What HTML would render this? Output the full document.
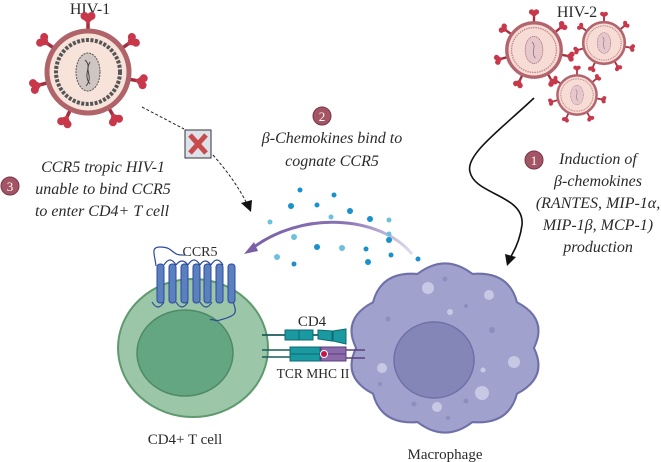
<!DOCTYPE html>
<html><head><meta charset="utf-8"><style>
html,body{margin:0;padding:0;background:#fff;width:661px;height:462px;overflow:hidden}
svg{display:block}
text{font-family:"Liberation Serif",serif;fill:#2a2a2a}
.it{font-style:italic;font-size:16px}
</style></head><body>
<svg width="661" height="462" viewBox="0 0 661 462" xmlns="http://www.w3.org/2000/svg">
<defs>
<g id="spike">
  <line x1="0" y1="-40" x2="0" y2="-53" stroke="#a03040" stroke-width="3.5"/>
  <circle cx="-3.5" cy="-56" r="4" fill="#c8384a"/><circle cx="3.5" cy="-56" r="4" fill="#c8384a"/>
  <path d="M-7,-55 L0,-48 L7,-55Z" fill="#c8384a"/>
</g>
<g id="v1">
  <use href="#spike" transform="rotate(0)"/><use href="#spike" transform="rotate(55)"/>
  <use href="#spike" transform="rotate(100)"/><use href="#spike" transform="rotate(150)"/>
  <use href="#spike" transform="rotate(205)"/><use href="#spike" transform="rotate(255)"/>
  <use href="#spike" transform="rotate(305)"/>
  <circle r="41" fill="#f7e3da" stroke="#b0646a" stroke-width="5"/>
  <circle r="32" fill="none" stroke="#555" stroke-width="4" stroke-dasharray="3 1.5"/>
  <ellipse rx="12" ry="19" fill="#cfc6c2" stroke="#555" stroke-dasharray="2 1"/>
  <path d="M-3,-12 C5,-5 -6,2 2,12 M2,-10 C-4,0 6,4 -2,14" stroke="#444" fill="none"/>
</g>
<g id="v2">
  <use href="#spike" transform="rotate(0)"/><use href="#spike" transform="rotate(50)"/>
  <use href="#spike" transform="rotate(100)"/><use href="#spike" transform="rotate(150)"/>
  <use href="#spike" transform="rotate(205)"/><use href="#spike" transform="rotate(255)"/>
  <use href="#spike" transform="rotate(305)"/>
  <circle r="40" fill="#f6dcd4" stroke="#b4646c" stroke-width="5"/>
  <circle r="33" fill="none" stroke="#c08088" stroke-width="2" stroke-dasharray="2 1.5"/>
  <ellipse rx="13" ry="20" fill="#e6c8cc" stroke="#a06070" stroke-dasharray="2 1"/>
  <path d="M-3,-12 C5,-5 -6,2 2,12" stroke="#806070" fill="none"/>
</g>
</defs>

<text x="90" y="14" font-size="16" text-anchor="middle">HIV-1</text>
<use href="#v1" transform="translate(88,72)"/>
<path d="M142,107 L184,129" stroke="#222" stroke-dasharray="3 2" fill="none"/>
<path d="M213,155 Q235,180 246,202" stroke="#222" stroke-dasharray="3 2" fill="none"/>
<path d="M241,203 L252,200 L251,212Z" fill="#111"/>
<rect x="185" y="130" width="26" height="28" fill="#dde2ea" stroke="#333"/>
<path d="M190,135 L206,153 M206,135 L190,153" stroke="#c84a4a" stroke-width="5"/>

<circle cx="10" cy="186" r="9" fill="#a35566" stroke="#7a3446"/>
<text x="10" y="191" font-size="13" text-anchor="middle" style="fill:#fff">3</text>
<text class="it" x="103" y="172" text-anchor="middle">CCR5 tropic HIV-1</text>
<text class="it" x="103" y="194" text-anchor="middle">unable to bind CCR5</text>
<text class="it" x="102" y="216" text-anchor="middle">to enter CD4+ T cell</text>

<circle cx="322" cy="116" r="9" fill="#a35566" stroke="#7a3446"/>
<text x="322" y="121" font-size="13" text-anchor="middle" style="fill:#fff">2</text>
<text class="it" x="332" y="143" text-anchor="middle">β-Chemokines bind to</text>
<text class="it" x="332" y="166" text-anchor="middle">cognate CCR5</text>

<text x="577" y="17" font-size="16" text-anchor="middle">HIV-2</text>
<use href="#v2" transform="translate(534,50) scale(0.68)"/>
<use href="#v2" transform="translate(604,43) scale(0.52)"/>
<use href="#v2" transform="translate(577,95) scale(0.49)"/>

<circle cx="534" cy="160" r="9" fill="#a35566" stroke="#7a3446"/>
<text x="534" y="165" font-size="13" text-anchor="middle" style="fill:#fff">1</text>
<text class="it" x="598" y="164" text-anchor="middle">Induction of</text>
<text class="it" x="598" y="186" text-anchor="middle">β-chemokines</text>
<text class="it" x="598" y="208" text-anchor="middle">(RANTES, MIP-1α,</text>
<text class="it" x="598" y="230" text-anchor="middle">MIP-1β, MCP-1)</text>
<text class="it" x="598" y="252" text-anchor="middle">production</text>

<path d="M534,98 C500,130 465,155 470,172 C475,195 525,195 522,225 C520,240 515,250 510,258" stroke="#111" stroke-width="1.6" fill="none"/>
<path d="M505,254 L516,257 L507,266Z" fill="#111"/>

<defs><linearGradient id="ag" x1="0" x2="1"><stop offset="0" stop-color="#7a5ea8"/><stop offset="0.6" stop-color="#8a74b4"/><stop offset="1" stop-color="#e0dcee"/></linearGradient></defs>
<path d="M412,254 C380,215 300,210 250,250" stroke="url(#ag)" stroke-width="3" fill="none"/>
<path d="M244,254 L254,242 L258,251Z" fill="#7a5ea8"/>
<g fill="#1a90cc">
<circle cx="300" cy="190" r="2.5"/><circle cx="334" cy="195" r="2.5"/><circle cx="291" cy="206" r="3"/>
<circle cx="317" cy="205" r="2.5"/><circle cx="350" cy="211" r="3"/><circle cx="370" cy="219" r="3"/>
<circle cx="389" cy="240" r="3"/><circle cx="317" cy="247" r="3"/><circle cx="366" cy="249" r="2.5"/>
<circle cx="368" cy="262" r="3"/><circle cx="391" cy="255" r="2.5"/><circle cx="418" cy="259" r="2.5"/>
<circle cx="294" cy="264" r="2.5"/>
</g>
<g fill="#6cc0e0">
<circle cx="270" cy="222" r="2.5"/><circle cx="331" cy="217" r="2.5"/><circle cx="389" cy="220" r="2.5"/>
<circle cx="294" cy="237" r="3"/><circle cx="389" cy="234" r="2.5"/><circle cx="342" cy="248" r="3"/>
<circle cx="277" cy="257" r="3"/>
</g>

<ellipse cx="193" cy="348" rx="75" ry="69" fill="#9cc6a8" stroke="#5e9a6e" stroke-width="2"/>
<ellipse cx="185" cy="353" rx="48" ry="43" fill="#64a682" stroke="#4e8a66" stroke-width="1.5"/>
<path d="M156,266 C155,255 150,247 160,247 C175,247 170,256 185,255 M232,298 C236,312 240,315 220,320 C215,322 212,318 210,320" stroke="#2b4a9a" fill="none" stroke-width="1.2"/>
<path d="M164,265 q6,-10 12,0 M188,265 q6,-10 12,0 M211,265 q6,-10 12,0 M176,302 q6,10 12,0 M200,302 q6,10 12,0" stroke="#2b4a9a" fill="none" stroke-width="1.2"/>
<path d="M152,302 q6,10 12,0 M176,265 q6,-8 12,0 M200,265 q5,-8 11,0" stroke="#2b4a9a" fill="none" stroke-width="1.2"/>
<g fill="#5b80c0" stroke="#2b4a9a" stroke-width="1">
<rect x="157" y="264" width="7" height="39" rx="3"/><rect x="169" y="264" width="7" height="39" rx="3"/>
<rect x="181" y="264" width="7" height="39" rx="3"/><rect x="193" y="264" width="7" height="39" rx="3"/>
<rect x="204" y="264" width="7" height="39" rx="3"/><rect x="216" y="264" width="7" height="39" rx="3"/>
<rect x="228" y="264" width="7" height="39" rx="3"/>
</g>
<text x="200" y="256" font-size="14" text-anchor="middle">CCR5</text>

<path d="M530.5,348 Q544.4,376.6 514.2,392.4 Q506.4,422.7 471.4,419.9 Q445,440.4 418.6,419.9 Q383.6,422.7 375.8,392.4 Q345.6,376.6 359.5,348 Q345.6,319.4 375.8,303.6 Q383.6,273.3 418.6,276.1 Q445,255.6 471.4,276.1 Q506.4,273.3 514.2,303.6 Q544.4,319.4 530.5,348Z" transform="translate(445,348) scale(1.04,1.03) translate(-445,-348)" fill="#a0a2cd" stroke="#6e70a8" stroke-width="2"/>
<ellipse cx="434" cy="360" rx="40" ry="38" fill="#8586b8" stroke="#6e70a8" stroke-width="1.5"/>
<g fill="#c6c8e4"><circle cx="428" cy="288" r="6"/><circle cx="489" cy="295" r="5"/><circle cx="382" cy="368" r="5"/><circle cx="514" cy="362" r="6"/><circle cx="482" cy="393" r="7"/><circle cx="437" cy="407" r="5"/><circle cx="450" cy="312" r="3"/><circle cx="483" cy="370" r="2.5"/></g>
<g fill="#8c8ebe"><circle cx="445" cy="279" r="2.5"/><circle cx="388" cy="319" r="2.5"/><circle cx="492" cy="330" r="3"/><circle cx="466" cy="306" r="2"/><circle cx="380" cy="384" r="2"/><circle cx="414" cy="404" r="2.5"/><circle cx="466" cy="401" r="2.5"/><circle cx="448" cy="418" r="2"/></g>

<line x1="262" y1="335" x2="345" y2="335" stroke="#1c5a5a" stroke-width="1.8"/>
<rect x="285" y="330" width="14" height="10" fill="#1a9aa0" stroke="#0c6a70"/>
<rect x="299" y="330" width="14" height="10" fill="#1a9aa0" stroke="#0c6a70"/>
<path d="M318,330 L332,331 L332,341 L318,339Z" fill="#1a9aa0" stroke="#0c6a70"/>
<path d="M333,331 L346,329 L346,344 L333,341Z" fill="#1a9aa0" stroke="#0c6a70"/>
<line x1="262" y1="350" x2="290" y2="350" stroke="#1c5a5a" stroke-width="1.5"/>
<line x1="262" y1="357" x2="290" y2="357" stroke="#1c5a5a" stroke-width="1.5"/>
<rect x="290" y="347" width="30" height="7" fill="#1a9aa0" stroke="#0c6a70"/>
<rect x="290" y="354" width="30" height="7" fill="#1a9aa0" stroke="#0c6a70"/>
<line x1="320" y1="350" x2="365" y2="350" stroke="#5a3e80" stroke-width="1.5"/>
<line x1="320" y1="358" x2="365" y2="358" stroke="#5a3e80" stroke-width="1.5"/>
<rect x="321" y="347" width="25" height="7" fill="#8a6aa8" stroke="#5a3e80"/>
<rect x="321" y="354" width="25" height="7" fill="#8a6aa8" stroke="#5a3e80"/>
<circle cx="324" cy="354" r="3.5" fill="#c0184a" stroke="#fff"/>
<text x="312" y="326" font-size="15" text-anchor="middle">CD4</text>
<text x="313" y="378" font-size="13.5" text-anchor="middle">TCR MHC II</text>

<text x="185" y="444" font-size="15" text-anchor="middle">CD4+ T cell</text>
<text x="445" y="459" font-size="15" text-anchor="middle">Macrophage</text>
</svg>
</body></html>
